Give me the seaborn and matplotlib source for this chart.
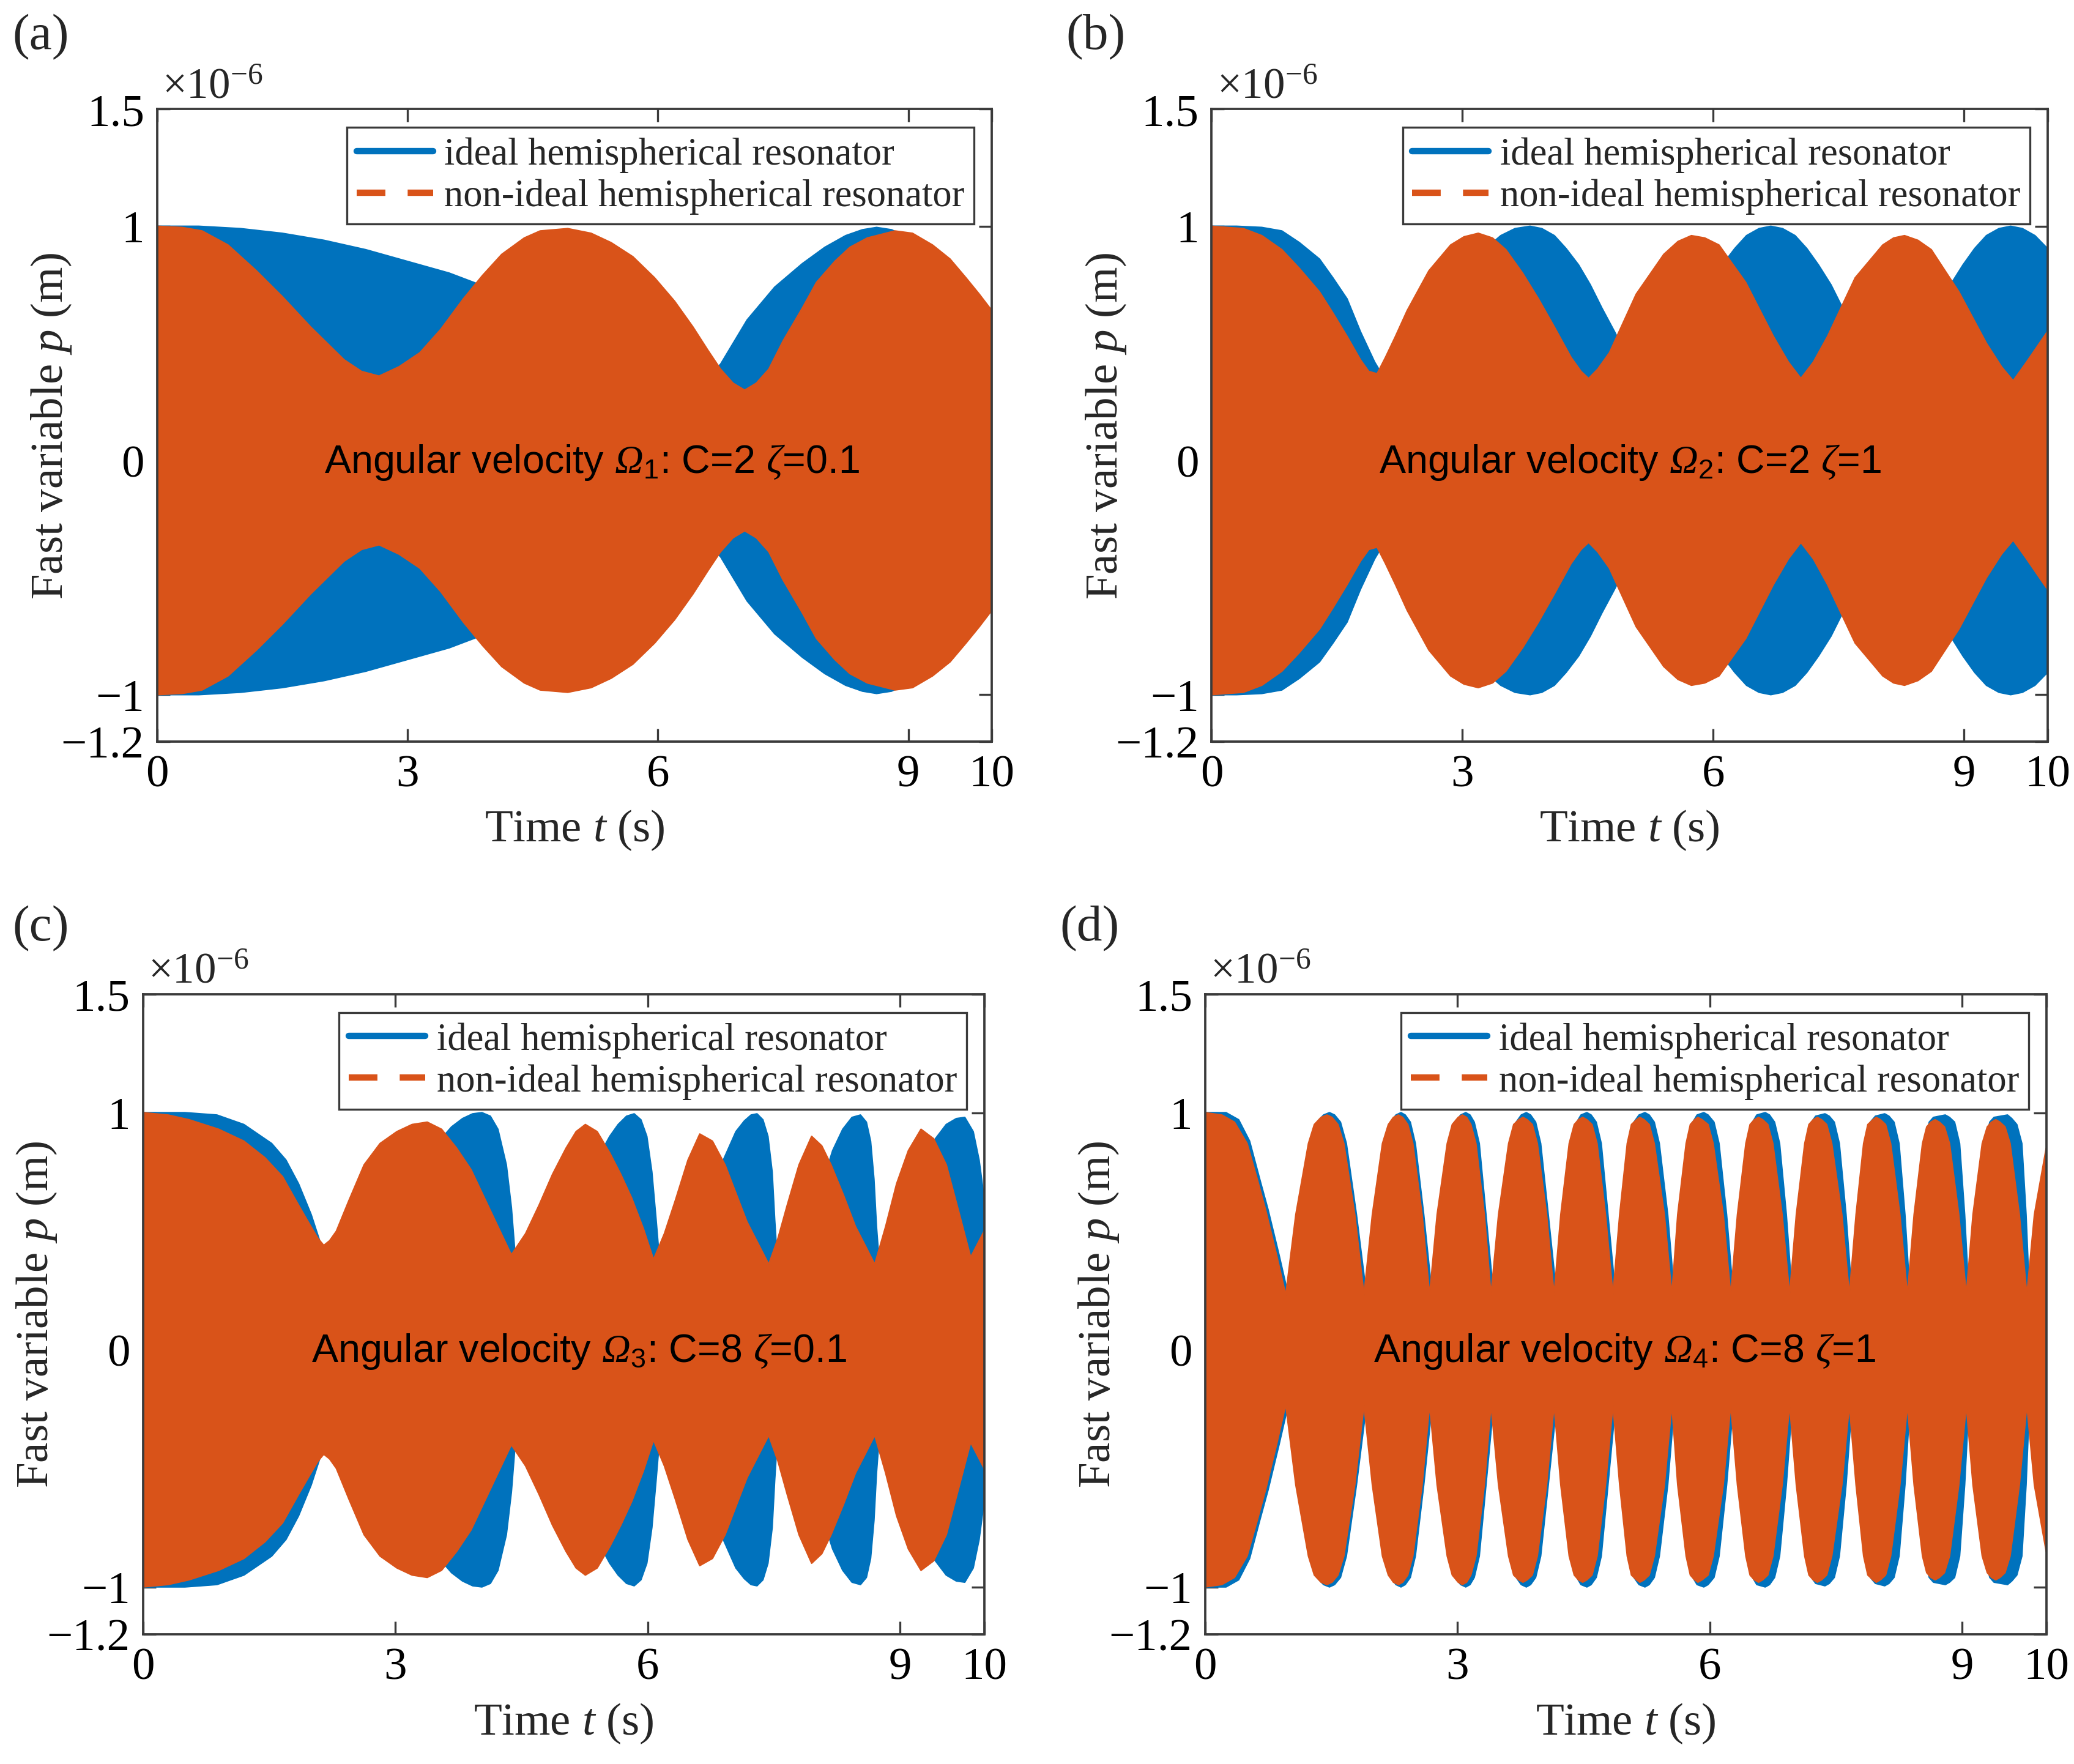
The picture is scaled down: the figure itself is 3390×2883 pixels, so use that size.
import numpy as np
import pandas as pd
import matplotlib.pyplot as plt
import seaborn as sns
from matplotlib.lines import Line2D

sns.set_theme(style='ticks')
plt.rcParams['font.family'] = ['Liberation Serif', 'DejaVu Serif']
plt.rcParams['mathtext.fontset'] = 'custom'
# mathtext draws capital Greek with the "rm" font, so make it the italic serif
plt.rcParams['mathtext.rm'] = 'Liberation Serif:italic'
plt.rcParams['mathtext.it'] = 'Liberation Serif:italic'
plt.rcParams['mathtext.bf'] = 'Liberation Serif'
plt.rcParams['mathtext.sf'] = 'Liberation Sans'

BLUE = '#0072BD'
ORANGE = '#D95319'

# envelope of the fast variable p (units of 1e-6 m)
# (a) Omega_1: C=2, zeta=0.1
t_a_ideal = [0, 0.5, 1.0, 1.5, 2.0, 2.5, 3.0, 3.5, 3.87, 4.3, 4.8, 5.3, 5.8, 6.2, 6.5, 6.75,
             7.07, 7.4, 7.73, 8.0, 8.25, 8.45, 8.62, 8.8, 9.0, 9.3, 9.6, 10.0]
p_a_ideal = [1.0, 1.0, 0.99, 0.97, 0.94, 0.90, 0.85, 0.80, 0.75, 0.68, 0.58, 0.46, 0.36, 0.32, 0.34, 0.41,
             0.60, 0.74, 0.84, 0.91, 0.96, 0.985, 0.995, 0.985, 0.95, 0.88, 0.75, 0.56]
t_a_non = [0, 0.3, 0.54, 0.85, 1.19, 1.5, 1.84, 2.24, 2.45, 2.66, 2.9, 3.15, 3.4, 3.67, 3.9, 4.13,
           4.4, 4.59, 4.92, 5.2, 5.44, 5.7, 5.96, 6.2, 6.42, 6.6, 6.75, 6.9, 7.04, 7.18, 7.33,
           7.5, 7.73, 7.9, 8.12, 8.3, 8.51, 8.84, 9.05, 9.29, 9.5, 9.69, 9.85, 10.0]
p_a_non = [1.0, 0.995, 0.98, 0.92, 0.81, 0.70, 0.57, 0.43, 0.38, 0.36, 0.40, 0.46, 0.56, 0.69, 0.79, 0.88,
           0.95, 0.98, 0.99, 0.97, 0.93, 0.87, 0.78, 0.68, 0.57, 0.47, 0.39, 0.33, 0.30, 0.33, 0.39,
           0.51, 0.65, 0.76, 0.85, 0.91, 0.95, 0.98, 0.97, 0.92, 0.86, 0.78, 0.71, 0.64]

# (b) Omega_2: C=2, zeta=1
t_b_ideal = [0, 0.3, 0.6, 0.84, 1.05, 1.29, 1.45, 1.62, 1.78, 1.95, 2.05, 2.23, 2.40, 2.58, 2.75,
             2.93, 3.11, 3.28, 3.46, 3.63, 3.81, 3.95, 4.10, 4.24, 4.39, 4.53, 4.67, 4.82, 4.96,
             5.11, 5.25, 5.39, 5.54, 5.68, 5.83, 5.97, 6.11, 6.26, 6.40, 6.55, 6.69, 6.83, 6.98,
             7.12, 7.26, 7.41, 7.55, 7.69, 7.84, 7.98, 8.12, 8.27, 8.41, 8.55, 8.70, 8.84, 8.99,
             9.13, 9.27, 9.42, 9.56, 9.70, 9.85, 10.0]
p_b_ideal = [1.0, 1.0, 0.995, 0.98, 0.93, 0.86, 0.78, 0.69, 0.55, 0.42, 0.36, 0.38, 0.45, 0.55, 0.65,
             0.75, 0.835, 0.905, 0.96, 0.99, 1.0, 0.99, 0.96, 0.905, 0.835, 0.75, 0.65, 0.55, 0.45,
             0.38, 0.35, 0.38, 0.45, 0.55, 0.65, 0.75, 0.835, 0.905, 0.96, 0.99, 1.0, 0.99, 0.96,
             0.905, 0.835, 0.75, 0.65, 0.55, 0.45, 0.38, 0.35, 0.38, 0.45, 0.55, 0.65, 0.75, 0.835,
             0.905, 0.96, 0.99, 1.0, 0.99, 0.96, 0.905]
t_b_non = [0, 0.38, 0.6, 0.84, 1.05, 1.29, 1.45, 1.62, 1.78, 1.88, 1.98, 2.08, 2.2, 2.34, 2.6, 2.86,
           3.02, 3.19, 3.36, 3.52, 3.72, 3.91, 4.1, 4.3, 4.42, 4.51, 4.62, 4.76, 5.08, 5.41, 5.58,
           5.74, 5.9, 6.07, 6.39, 6.72, 6.9, 7.05, 7.2, 7.37, 7.7, 8.03, 8.16, 8.29, 8.45, 8.61,
           8.94, 9.27, 9.45, 9.59, 9.75, 10.0]
p_b_non = [1.0, 0.99, 0.96, 0.90, 0.82, 0.72, 0.63, 0.53, 0.43, 0.38, 0.37, 0.44, 0.53, 0.64, 0.81, 0.92,
           0.955, 0.97, 0.95, 0.90, 0.80, 0.69, 0.57, 0.44, 0.38, 0.35, 0.39, 0.46, 0.71, 0.88, 0.935,
           0.96, 0.95, 0.92, 0.76, 0.53, 0.42, 0.35, 0.42, 0.53, 0.78, 0.92, 0.95, 0.96, 0.94, 0.90,
           0.72, 0.50, 0.40, 0.34, 0.42, 0.55]

# (c) Omega_3: C=8, zeta=0.1
t_c_ideal = [0, 0.5, 0.88, 1.2, 1.53, 1.7, 1.85, 2.0, 2.11, 2.25, 2.5, 2.8, 3.1, 3.4,
             3.67, 3.8, 3.92, 4.03, 4.13, 4.22, 4.32, 4.38, 4.42,
             4.55, 4.8, 5.1, 5.35,
             5.55, 5.65, 5.75, 5.84, 5.92, 5.99, 6.05, 6.10, 6.14,
             6.25, 6.5, 6.8,
             7.05, 7.15, 7.23, 7.30, 7.37, 7.43, 7.48, 7.51, 7.54,
             7.65, 7.9,
             8.2, 8.32, 8.43, 8.53, 8.60, 8.65, 8.69, 8.72, 8.75,
             8.85, 9.1,
             9.4, 9.55, 9.67, 9.77, 9.87, 9.94, 10.0]
p_c_ideal = [1.0, 1.0, 0.99, 0.95, 0.87, 0.80, 0.70, 0.57, 0.45, 0.37, 0.36, 0.45, 0.62, 0.83,
             0.94, 0.975, 0.995, 1.0, 0.985, 0.93, 0.78, 0.60, 0.42,
             0.34, 0.36, 0.55, 0.77,
             0.90, 0.95, 0.985, 0.995, 0.97, 0.90, 0.75, 0.55, 0.38,
             0.34, 0.42, 0.72,
             0.92, 0.965, 0.99, 0.995, 0.97, 0.90, 0.75, 0.55, 0.38,
             0.34, 0.50,
             0.84, 0.93, 0.98, 0.99, 0.96, 0.88, 0.72, 0.52, 0.38,
             0.34, 0.60,
             0.88, 0.95, 0.975, 0.98, 0.92, 0.80, 0.64]
t_c_non = [0, 0.3, 0.55, 0.9, 1.2, 1.45, 1.66, 1.85, 1.98, 2.08, 2.15, 2.22, 2.3, 2.45, 2.63, 2.82,
           3.02, 3.2, 3.38, 3.55, 3.73, 3.9, 4.06, 4.22, 4.38, 4.55, 4.71, 4.87, 5.03, 5.15, 5.26,
           5.4, 5.55, 5.68, 5.81, 5.95, 6.07, 6.2, 6.33, 6.48, 6.62, 6.77, 6.92, 7.05, 7.18, 7.31,
           7.44, 7.55, 7.66, 7.8, 7.95, 8.07, 8.18, 8.33, 8.47, 8.6, 8.7, 8.83, 8.96, 9.1, 9.25,
           9.4, 9.55, 9.7, 9.84, 10.0]
p_c_non = [1.0, 0.99, 0.97, 0.93, 0.88, 0.81, 0.73, 0.61, 0.53, 0.47, 0.44, 0.46, 0.50, 0.63, 0.78, 0.87,
           0.92, 0.95, 0.96, 0.93, 0.85, 0.76, 0.64, 0.52, 0.40, 0.49, 0.61, 0.74, 0.85, 0.92, 0.95,
           0.92, 0.83, 0.74, 0.64, 0.51, 0.38, 0.49, 0.63, 0.80, 0.91, 0.88, 0.78, 0.66, 0.54, 0.45,
           0.36, 0.47, 0.61, 0.78, 0.90, 0.86, 0.78, 0.65, 0.52, 0.43, 0.36, 0.52, 0.70, 0.84, 0.93,
           0.89, 0.78, 0.58, 0.39, 0.50]

# (d) Omega_4: C=8, zeta=1  (one row per beat lobe)
t_d_ideal = [0, 0.25, 0.4, 0.53, 0.65, 0.75, 0.88, 0.99,
             1.11, 1.26, 1.33, 1.41, 1.48, 1.54, 1.61, 1.68, 1.80, 1.92,
             2.02, 2.14, 2.21, 2.27, 2.33, 2.38, 2.44, 2.50, 2.60, 2.70,
             2.79, 2.91, 2.97, 3.04, 3.10, 3.15, 3.20, 3.26, 3.34, 3.43,
             3.52, 3.64, 3.70, 3.76, 3.82, 3.87, 3.93, 3.99, 4.08, 4.18,
             4.26, 4.36, 4.42, 4.47, 4.54, 4.59, 4.65, 4.71, 4.79, 4.88,
             4.96, 5.05, 5.10, 5.16, 5.23, 5.28, 5.34, 5.40, 5.50, 5.58,
             5.65, 5.75, 5.80, 5.85, 5.93, 5.98, 6.05, 6.11, 6.20, 6.28,
             6.36, 6.46, 6.51, 6.56, 6.66, 6.71, 6.77, 6.83, 6.91, 6.98,
             7.06, 7.16, 7.21, 7.26, 7.37, 7.42, 7.48, 7.54, 7.62, 7.69,
             7.77, 7.86, 7.91, 7.97, 8.08, 8.13, 8.19, 8.25, 8.32, 8.38,
             8.46, 8.56, 8.61, 8.66, 8.80, 8.85, 8.91, 8.97, 9.03, 9.08,
             9.16, 9.27, 9.33, 9.38, 9.54, 9.59, 9.65, 9.71, 9.76, 9.80,
             9.89, 10.0]
p_d_ideal = [1.0, 1.0, 0.97, 0.88, 0.72, 0.59, 0.40, 0.23,
             0.57, 0.87, 0.96, 0.99, 1.0, 0.99, 0.96, 0.87, 0.57, 0.23,
             0.57, 0.87, 0.96, 0.99, 1.0, 0.99, 0.96, 0.87, 0.57, 0.23,
             0.57, 0.87, 0.96, 0.99, 1.0, 0.99, 0.96, 0.87, 0.57, 0.23,
             0.57, 0.87, 0.96, 0.99, 1.0, 0.99, 0.96, 0.87, 0.57, 0.23,
             0.57, 0.87, 0.96, 0.99, 1.0, 0.99, 0.96, 0.87, 0.57, 0.23,
             0.57, 0.87, 0.96, 0.99, 1.0, 0.99, 0.96, 0.87, 0.57, 0.23,
             0.57, 0.87, 0.96, 0.99, 1.0, 0.99, 0.96, 0.87, 0.57, 0.23,
             0.57, 0.87, 0.96, 0.99, 1.0, 0.99, 0.96, 0.87, 0.57, 0.23,
             0.57, 0.87, 0.96, 0.985, 0.995, 0.985, 0.96, 0.87, 0.57, 0.23,
             0.57, 0.87, 0.96, 0.985, 0.995, 0.985, 0.96, 0.87, 0.57, 0.23,
             0.57, 0.87, 0.96, 0.98, 0.99, 0.98, 0.96, 0.87, 0.57, 0.23,
             0.57, 0.87, 0.96, 0.98, 0.99, 0.975, 0.95, 0.87, 0.57, 0.23,
             0.57, 0.78]
t_d_non = [0, 0.2, 0.35, 0.5, 0.62, 0.72, 0.85, 0.96,
           1.08, 1.23, 1.30, 1.38, 1.45, 1.51, 1.58, 1.65, 1.78, 1.89,
           1.99, 2.11, 2.18, 2.24, 2.30, 2.35, 2.41, 2.47, 2.58, 2.67,
           2.76, 2.88, 2.94, 3.01, 3.06, 3.11, 3.16, 3.22, 3.32, 3.40,
           3.49, 3.61, 3.67, 3.73, 3.78, 3.83, 3.89, 3.95, 4.06, 4.15,
           4.23, 4.33, 4.39, 4.44, 4.49, 4.54, 4.60, 4.66, 4.76, 4.85,
           4.93, 5.02, 5.07, 5.13, 5.17, 5.22, 5.28, 5.34, 5.46, 5.55,
           5.62, 5.72, 5.77, 5.82, 5.86, 5.91, 5.98, 6.04, 6.16, 6.25,
           6.33, 6.43, 6.48, 6.53, 6.58, 6.63, 6.69, 6.75, 6.86, 6.95,
           7.03, 7.13, 7.18, 7.23, 7.28, 7.33, 7.39, 7.45, 7.57, 7.66,
           7.74, 7.83, 7.88, 7.94, 7.98, 8.03, 8.09, 8.15, 8.26, 8.35,
           8.43, 8.53, 8.58, 8.63, 8.68, 8.73, 8.79, 8.85, 8.96, 9.05,
           9.13, 9.24, 9.30, 9.35, 9.40, 9.45, 9.51, 9.57, 9.68, 9.77,
           9.86, 10.0]
p_d_non = [1.0, 0.99, 0.96, 0.87, 0.72, 0.59, 0.40, 0.23,
           0.57, 0.87, 0.95, 0.98, 0.99, 0.98, 0.95, 0.87, 0.57, 0.23,
           0.57, 0.87, 0.95, 0.98, 0.99, 0.98, 0.95, 0.87, 0.57, 0.23,
           0.57, 0.87, 0.95, 0.98, 0.99, 0.98, 0.95, 0.87, 0.57, 0.23,
           0.57, 0.87, 0.95, 0.97, 0.98, 0.97, 0.95, 0.87, 0.57, 0.23,
           0.57, 0.87, 0.95, 0.97, 0.98, 0.97, 0.95, 0.87, 0.57, 0.23,
           0.57, 0.87, 0.95, 0.97, 0.98, 0.97, 0.95, 0.87, 0.57, 0.23,
           0.57, 0.87, 0.95, 0.97, 0.98, 0.97, 0.95, 0.87, 0.57, 0.23,
           0.57, 0.87, 0.95, 0.97, 0.98, 0.97, 0.95, 0.87, 0.57, 0.23,
           0.57, 0.87, 0.95, 0.97, 0.98, 0.97, 0.95, 0.87, 0.57, 0.23,
           0.57, 0.87, 0.95, 0.97, 0.98, 0.97, 0.95, 0.87, 0.57, 0.23,
           0.57, 0.87, 0.94, 0.96, 0.97, 0.96, 0.94, 0.87, 0.57, 0.23,
           0.57, 0.87, 0.94, 0.96, 0.97, 0.96, 0.94, 0.87, 0.57, 0.23,
           0.57, 0.85]

panel_labels = ['(a)', '(b)', '(c)', '(d)']
omega_idx = ['1', '2', '3', '4']
C_vals = ['2', '2', '8', '8']
zeta_vals = ['0.1', '1', '0.1', '1']
legend_labels = ['ideal hemispherical resonator', 'non-ideal hemispherical resonator']
xticks = [0, 3, 6, 9, 10]
yticks = [-1.2, -1, 0, 1, 1.5]
ytick_labels = ['\u22121.2', '\u22121', '0', '1', '1.5']

series = [
    (t_a_ideal, p_a_ideal, t_a_non, p_a_non),
    (t_b_ideal, p_b_ideal, t_b_non, p_b_non),
    (t_c_ideal, p_c_ideal, t_c_non, p_c_non),
    (t_d_ideal, p_d_ideal, t_d_non, p_d_non),
]

# axes rectangles [left, bottom, width, height] in figure fraction
rects = [
    [0.0757, 0.5795, 0.4025, 0.3583],
    [0.5842, 0.5795, 0.4030, 0.3583],
    [0.0689, 0.0735, 0.4056, 0.3628],
    [0.5810, 0.0735, 0.4056, 0.3628],
]
label_pos = [(0.006, 0.992), (0.514, 0.992), (0.006, 0.487), (0.511, 0.487)]

AXCOL = '#3a3a3a'


def envelope(ax, t, p, color, z):
    df = pd.DataFrame({'t': t, 'p': p})
    ax.fill_between(df['t'], -df['p'], df['p'], color=color, lw=0, zorder=z)
    sns.lineplot(data=df, x='t', y='p', ax=ax, color=color, lw=0.6, legend=False, zorder=z + 0.1)
    sns.lineplot(x=df['t'], y=-df['p'], ax=ax, color=color, lw=0.6, legend=False, zorder=z + 0.1)


fig = plt.figure(figsize=(11.3, 9.613), dpi=300)

for i in range(4):
    ax = fig.add_axes(rects[i])
    t_id, p_id, t_non, p_non = series[i]
    envelope(ax, t_id, p_id, BLUE, 1)
    envelope(ax, t_non, p_non, ORANGE, 2)

    ax.set_xlim(0, 10)
    ax.set_ylim(-1.2, 1.5)
    ax.set_xticks(xticks)
    ax.set_xticklabels([str(v) for v in xticks])
    ax.set_yticks(yticks)
    ax.set_yticklabels(ytick_labels)
    ax.tick_params(direction='in', top=True, right=True, length=5, width=0.8,
                   color=AXCOL, labelsize=18, labelcolor='black', pad=5)
    for s in ax.spines.values():
        s.set_color(AXCOL)
        s.set_linewidth(0.9)
        s.set_zorder(5)

    ax.set_xlabel('Time $t$ (s)', fontsize=18)
    ax.set_ylabel('Fast variable $p$ (m)', fontsize=18)
    ax.xaxis.set_label_coords(0.5, -0.105)
    ax.yaxis.set_label_coords(-0.10, 0.5)

    ax.text(0.006, 1.004, '\u00d710$^{\\mathbf{-6}}$', transform=ax.transAxes,
            fontsize=17, ha='left', va='bottom')

    ax.text(2.0, -0.05,
            'Angular velocity $\u03a9_{\\mathsf{' + omega_idx[i] + '}}$: C=' + C_vals[i]
            + ' $\\mathit{\u03b6}$=' + zeta_vals[i],
            family='Liberation Sans', fontsize=15.5, ha='left', va='baseline', color='black',
            zorder=6)

    handles = [Line2D([], [], color=BLUE, lw=2.5, ls='-'),
               Line2D([], [], color=ORANGE, lw=2.5, ls=(0, (4.5, 3.5)))]
    leg = ax.legend(handles, legend_labels, loc='upper right', bbox_to_anchor=(0.979, 0.971),
                    borderaxespad=0, fontsize=15, frameon=True, fancybox=False, framealpha=1,
                    edgecolor=AXCOL, handlelength=2.0, handletextpad=0.3, labelspacing=0.15,
                    borderpad=0.25)
    leg.get_frame().set_linewidth(0.8)
    leg.set_zorder(7)

    fig.text(label_pos[i][0], label_pos[i][1], panel_labels[i], fontsize=20,
             ha='left', va='top')

fig.savefig('out.png', dpi=300, facecolor='white')
